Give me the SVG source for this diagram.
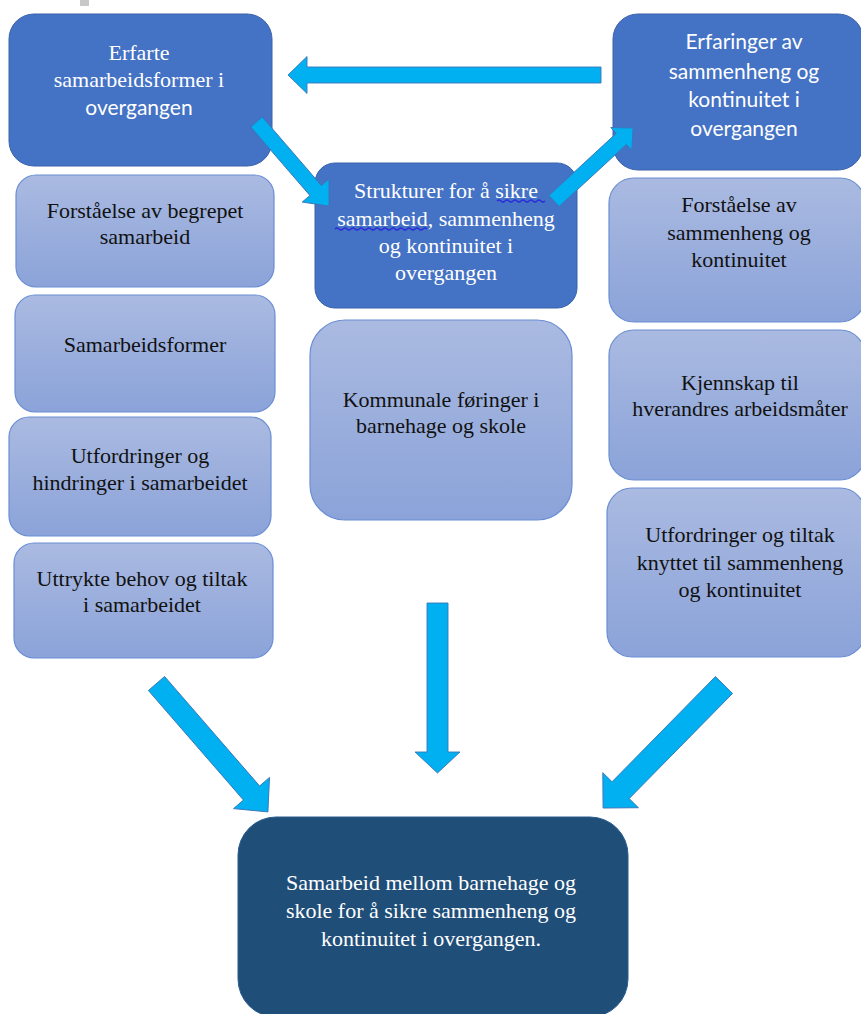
<svg xmlns="http://www.w3.org/2000/svg" width="861" height="1014" viewBox="0 0 861 1014">
<defs>
<linearGradient id="lg" x1="0" y1="0" x2="0" y2="1">
<stop offset="0" stop-color="#AABAE1"/>
<stop offset="1" stop-color="#8BA3D9"/>
</linearGradient>
<style>
.dark{fill:#4472C4;stroke:#3A62AA;stroke-width:1}
.light{fill:url(#lg);stroke:#6A8ED4;stroke-width:1.2}
.navy{fill:#1F4E79;stroke:#2B5C8E;stroke-width:1}
.arrow{fill:#00B0F0;stroke:#3A76BA;stroke-width:0.9;stroke-linejoin:miter}
.sw{font-family:"Liberation Serif","Times New Roman",serif;font-size:22px;fill:#FFFFFF;text-anchor:middle}
.sb{font-family:"Liberation Serif","Times New Roman",serif;font-size:22px;fill:#111111;text-anchor:middle}
.cw{font-family:Lato,"Open Sans",sans-serif;font-size:21px;fill:#FFFFFF;text-anchor:middle}
.wave{fill:none;stroke:#2B2BD9;stroke-width:1.2}
</style>
</defs>
<rect x="80" y="0" width="9" height="6" fill="#C8C8C8"/>
<g id="node-erfarte">
<rect class="dark" x="9" y="14" width="263" height="152" rx="25"/>
<text class="sw" x="139" y="60">Erfarte</text>
<text class="sw" x="139" y="87">samarbeidsformer i</text>
<text class="cw" x="139" y="115">overgangen</text>
</g>
<g id="node-erfaringer">
<rect class="dark" x="613" y="14" width="250" height="156" rx="25"/>
<text class="cw" x="744" y="49">Erfaringer av</text>
<text class="cw" x="744" y="79">sammenheng og</text>
<text class="cw" x="744" y="107">kontinuitet i</text>
<text class="cw" x="744" y="136">overgangen</text>
</g>
<g id="node-strukturer">
<rect class="dark" x="315" y="163" width="262" height="145" rx="20"/>
<text class="sw" x="446" y="198">Strukturer for å sikre</text>
<text class="sw" x="446" y="226">samarbeid, sammenheng</text>
<text class="sw" x="446" y="253">og kontinuitet i</text>
<text class="sw" x="446" y="280">overgangen</text>
<path class="wave" d="M497,201 q2,-2 4,0 t4,0 t4,0 t4,0 t4,0 t4,0 t4,0 t4,0 t4,0 t4,0 t4,0 t4,0"/>
<path class="wave" d="M335,229 q2,-2 4,0 t4,0 t4,0 t4,0 t4,0 t4,0 t4,0 t4,0 t4,0 t4,0 t4,0 t4,0 t4,0 t4,0 t4,0 t4,0 t4,0 t4,0 t4,0 t4,0 t4,0 t4,0 t4,0"/>
</g>
<g id="node-kommunale">
<rect class="light" x="310" y="320" width="262" height="200" rx="35"/>
<text class="sb" x="441" y="407">Kommunale føringer i</text>
<text class="sb" x="441" y="433">barnehage og skole</text>
</g>
<g id="node-forstaelse-samarbeid">
<rect class="light" x="16" y="175" width="258" height="112" rx="20"/>
<text class="sb" x="145" y="218">Forståelse av begrepet</text>
<text class="sb" x="145" y="244">samarbeid</text>
</g>
<g id="node-samarbeidsformer">
<rect class="light" x="15" y="295" width="260" height="117" rx="20"/>
<text class="sb" x="145" y="352">Samarbeidsformer</text>
</g>
<g id="node-utfordringer-hindringer">
<rect class="light" x="9" y="417" width="262" height="119" rx="20"/>
<text class="sb" x="140" y="463">Utfordringer og</text>
<text class="sb" x="140" y="490">hindringer i samarbeidet</text>
</g>
<g id="node-uttrykte">
<rect class="light" x="14" y="543" width="259" height="115" rx="20"/>
<text class="sb" x="142" y="586">Uttrykte behov og tiltak</text>
<text class="sb" x="142" y="612">i samarbeidet</text>
</g>
<g id="node-forstaelse-sammenheng">
<rect class="light" x="609" y="178" width="256" height="144" rx="25"/>
<text class="sb" x="739" y="212">Forståelse av</text>
<text class="sb" x="739" y="240">sammenheng og</text>
<text class="sb" x="739" y="267">kontinuitet</text>
</g>
<g id="node-kjennskap">
<rect class="light" x="609" y="330" width="256" height="150" rx="25"/>
<text class="sb" x="740" y="390">Kjennskap til</text>
<text class="sb" x="740" y="416">hverandres arbeidsmåter</text>
</g>
<g id="node-utfordringer-tiltak">
<rect class="light" x="607" y="488" width="258" height="169" rx="25"/>
<text class="sb" x="740" y="542">Utfordringer og tiltak</text>
<text class="sb" x="740" y="570">knyttet til sammenheng</text>
<text class="sb" x="740" y="597">og kontinuitet</text>
</g>
<g id="node-samarbeid">
<rect class="navy" x="238" y="817" width="390" height="200" rx="38"/>
<text class="sw" x="431" y="890">Samarbeid mellom barnehage og</text>
<text class="sw" x="431" y="918">skole for å sikre sammenheng og</text>
<text class="sw" x="431" y="946">kontinuitet i overgangen.</text>
</g>
<g id="connectors">
<path class="arrow" transform="translate(601,75) rotate(180)" d="M0,-8 L294,-8 L294,-18.5 L313,0 L294,18.5 L294,8 L0,8 Z"/>
<path class="arrow" transform="translate(256.5,122) rotate(49.2)" d="M0,-7.6 L90.5,-7.6 L90.5,-17.7 L111,0 L90.5,17.7 L90.5,7.6 L0,7.6 Z"/>
<path class="arrow" transform="translate(554,201) rotate(-42.7)" d="M0,-7.5 L91.6,-7.5 L91.6,-15.5 L107.6,0 L91.6,15.5 L91.6,7.5 L0,7.5 Z"/>
<path class="arrow" transform="translate(156.5,683.5) rotate(49.05)" d="M0,-10.7 L145,-10.7 L145,-23.8 L170,0 L145,23.8 L145,10.7 L0,10.7 Z"/>
<path class="arrow" transform="translate(437.5,603) rotate(90)" d="M0,-10.5 L149,-10.5 L149,-22.5 L170,0 L149,22.5 L149,10.5 L0,10.5 Z"/>
<path class="arrow" transform="translate(724,685) rotate(134.5)" d="M0,-12 L147.5,-12 L147.5,-25 L172.5,0 L147.5,25 L147.5,12 L0,12 Z"/>
</g>
</svg>
